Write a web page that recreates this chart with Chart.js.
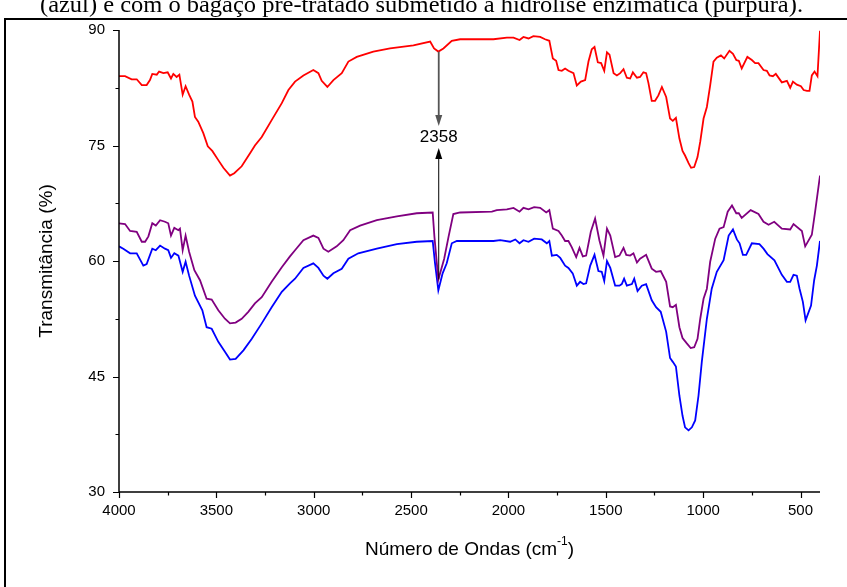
<!DOCTYPE html>
<html>
<head>
<meta charset="utf-8">
<script src="https://cdn.jsdelivr.net/npm/chart.js@4.4.1/dist/chart.umd.min.js"></script>
<style>
  html, body { margin: 0; padding: 0; background: #fff; }
</style>
</head>
<body>
<canvas id="ftirChart" width="847" height="587"></canvas>
<script>
// Espectros FTIR: bagaço in natura (vermelho), pré-tratado (azul), pré-tratado + hidrólise (púrpura)
const redWave = [4000,3969,3935,3909,3883,3858,3841,3829,3806,3794,3772,3750,3733,3721,3704,3690,3673,3658,3640,3623,3610,3593,3567,3544,3521,3490,3464,3430,3408,3370,3327,3302,3267,3216,3164,3130,3096,3053,3002,2976,2959,2930,2899,2856,2822,2779,2694,2608,2488,2402,2382,2360,2334,2291,2248,2077,2008,1974,1943,1923,1897,1872,1837,1812,1790,1772,1755,1743,1726,1709,1692,1666,1649,1628,1606,1589,1572,1558,1541,1524,1508,1494,1481,1460,1443,1426,1409,1392,1375,1361,1340,1324,1307,1293,1281,1264,1247,1230,1212,1190,1170,1156,1140,1122,1106,1093,1075,1062,1046,1029,1015,998,981,964,947,930,909,892,865,847,830,817,802,773,750,733,716,690,673,659,642,627,596,570,553,539,519,498,484,467,454,442,428,413,400];
const redT = [84.0,84.0,83.6,83.6,82.85,82.85,83.5,84.3,84.2,84.6,84.4,84.5,83.7,84.3,83.9,84.2,81.6,82.7,81.6,80.7,78.7,78.1,76.6,74.9,74.3,73.1,72.1,71.1,71.4,72.3,74.0,75.0,76.1,78.3,80.5,82.2,83.3,84.1,84.8,84.4,83.4,82.6,83.5,84.4,85.9,86.5,87.2,87.6,88.0,88.5,87.6,87.2,87.6,88.6,88.8,88.8,89.0,89.0,88.7,89.1,88.9,89.2,89.1,88.8,88.6,86.3,86.0,84.8,84.7,85.0,84.7,84.4,82.8,83.3,83.5,85.9,87.5,87.8,85.8,85.7,84.7,87.1,86.8,84.4,84.1,84.4,84.9,83.8,83.7,84.5,83.8,83.9,84.5,84.4,83.1,80.8,80.8,81.5,82.6,81.3,78.5,78.2,78.6,75.9,74.3,73.7,72.7,72.1,72.2,73.5,75.5,78.5,80.0,82.8,85.9,86.4,86.7,86.3,87.3,86.9,86.1,86.0,85.0,86.5,86.1,85.7,85.7,84.8,84.7,84.1,84.0,84.3,83.2,83.4,82.5,83.3,82.9,82.7,82.2,82.1,82.1,84.1,84.6,84.0,89.9];

const purpleWave = [4000,3969,3943,3909,3883,3866,3849,3829,3811,3789,3764,3747,3733,3716,3695,3687,3673,3658,3640,3613,3584,3550,3524,3490,3456,3430,3401,3370,3336,3302,3267,3216,3164,3122,3096,3053,3002,2976,2950,2925,2882,2848,2813,2762,2676,2573,2471,2389,2380,2360,2330,2308,2283,2248,2085,2060,2008,1974,1943,1923,1897,1868,1837,1806,1790,1772,1743,1726,1709,1692,1675,1652,1635,1618,1601,1577,1555,1533,1512,1494,1477,1452,1430,1409,1395,1375,1358,1340,1324,1293,1264,1242,1218,1190,1170,1156,1140,1122,1106,1084,1064,1046,1029,1015,998,981,964,938,916,895,874,852,830,817,802,756,716,690,664,635,596,553,536,493,476,442,425,400];
const purpleT = [64.9,64.8,63.9,63.8,62.5,62.5,63.2,64.9,64.6,65.3,65.1,64.9,63.3,64.3,64.0,64.2,61.4,63.3,61.2,58.8,57.5,55.1,55.0,53.6,52.5,51.9,52.0,52.5,53.4,54.5,55.3,57.3,59.2,60.6,61.4,62.7,63.3,63.0,61.6,61.2,61.9,62.7,64.0,64.6,65.3,65.8,66.2,66.3,63.1,57.6,60.3,63.1,66.1,66.3,66.4,66.6,66.7,66.9,66.4,66.9,66.7,67.0,66.9,66.3,66.6,64.2,63.9,63.3,62.6,62.6,61.8,60.5,61.7,60.6,60.7,63.8,65.5,62.7,60.7,64.2,63.3,60.5,60.7,61.7,60.8,60.7,61.0,59.8,60.3,60.8,59.0,58.6,58.7,57.3,54.1,54.0,54.3,51.4,50.0,49.3,48.7,48.8,49.9,52.5,55.1,56.4,59.9,62.9,64.2,64.4,66.4,67.2,66.2,66.2,65.6,66.6,66.1,65.1,64.7,65.1,64.2,64.1,64.8,63.9,61.9,63.4,66.4,71.1];

const blueWave = [4000,3978,3943,3909,3875,3858,3829,3811,3789,3764,3747,3733,3716,3695,3673,3658,3640,3610,3572,3550,3524,3490,3456,3430,3401,3361,3318,3267,3216,3164,3122,3096,3053,3002,2976,2950,2930,2899,2856,2822,2771,2676,2573,2471,2389,2377,2360,2338,2317,2291,2265,2077,2042,1991,1965,1943,1923,1897,1868,1829,1803,1790,1777,1752,1734,1709,1692,1670,1649,1632,1615,1601,1580,1558,1538,1521,1508,1494,1477,1452,1430,1418,1406,1392,1366,1354,1337,1315,1293,1264,1242,1218,1190,1170,1156,1140,1122,1106,1093,1075,1058,1041,1024,1007,981,956,930,895,869,847,827,813,796,779,750,711,690,670,634,596,570,553,536,519,505,488,474,446,430,416,400];
const blueT = [61.9,61.6,61.0,61.0,59.4,59.6,61.6,61.4,62.0,61.6,61.4,60.4,61.0,60.7,58.6,59.9,58.1,55.5,53.6,51.4,51.2,49.5,48.2,47.2,47.3,48.4,49.9,51.9,54.0,56.0,57.1,57.7,59.1,59.7,59.1,58.1,57.7,58.4,59.0,60.3,61.0,61.6,62.2,62.5,62.6,59.7,56.2,58.4,59.7,62.3,62.6,62.6,62.7,62.5,62.8,62.3,62.7,62.5,62.9,62.8,62.3,62.6,60.7,60.8,60.4,59.4,59.1,58.4,56.8,57.3,57.0,57.1,59.4,60.8,58.7,58.6,57.4,60.0,59.1,56.8,56.8,57.0,57.7,56.8,57.0,57.7,56.1,56.8,57.0,54.9,54.0,53.4,50.8,47.4,46.9,46.3,42.5,39.9,38.4,38.0,38.4,39.3,42.5,46.9,52.5,56.4,58.6,60.1,63.3,64.1,62.8,62.3,60.8,60.8,62.3,62.2,61.6,60.9,60.1,58.2,57.3,57.3,58.2,58.1,56.4,54.7,52.3,54.2,57.5,59.4,62.6];

// eixos
const xMajorTicks = [4000,3500,3000,2500,2000,1500,1000,500];
const xMinorTicks = [3750,3250,2750,2250,1750,1250,750];
const yMajorTicks = [30,45,60,75,90];
const yMinorTicks = [37.5,52.5,67.5,82.5];

// banda marcada em 2358 cm-1
const bandWave = 2358;
const bandTopT = 87.2;
const bandBottomT = 57.6;
const bandLabelT = 76.1;

const caption = '(azul) e com o bagaço pré-tratado submetido à hidrólise enzimática (púrpura).';

function toPoints(xs, ys) {
  return xs.map((x, i) => ({ x: x, y: ys[i] }));
}

const FONT = '"Liberation Sans", Arial, sans-serif';

// moldura da figura e legenda cortada no topo
const framePlugin = {
  id: 'framePlugin',
  beforeDraw(chart) {
    const ctx = chart.ctx;
    ctx.save();
    ctx.fillStyle = '#fff';
    ctx.fillRect(0, 0, chart.width, chart.height);
    ctx.fillStyle = '#000';
    ctx.font = '24px "Liberation Serif", "Times New Roman", serif';
    ctx.textAlign = 'left';
    ctx.textBaseline = 'alphabetic';
    // ajusta a largura da legenda entre x=40 e x=803
    const w = ctx.measureText(caption).width;
    ctx.save();
    ctx.translate(40, 12);
    ctx.scale(763 / w, 1);
    ctx.fillText(caption, 0, 0);
    ctx.restore();
    ctx.strokeStyle = '#000';
    ctx.lineWidth = 2;
    ctx.beginPath();
    ctx.moveTo(5, chart.height + 5);
    ctx.lineTo(5, 19);
    ctx.lineTo(chart.width + 5, 19);
    ctx.stroke();
    ctx.restore();
  }
};

function arrow(ctx, x, yFrom, yTo, color, width) {
  const dir = yTo > yFrom ? 1 : -1;
  ctx.strokeStyle = color;
  ctx.fillStyle = color;
  ctx.lineWidth = width;
  ctx.beginPath();
  ctx.moveTo(x, yFrom);
  ctx.lineTo(x, yTo - dir * 10);
  ctx.stroke();
  ctx.beginPath();
  ctx.moveTo(x, yTo);
  ctx.lineTo(x - 3.5, yTo - dir * 11);
  ctx.lineTo(x + 3.5, yTo - dir * 11);
  ctx.closePath();
  ctx.fill();
}

// eixos no estilo Origin: só esquerda e baixo, com ticks menores
const axesPlugin = {
  id: 'axesPlugin',
  afterDatasetsDraw(chart) {
    const ctx = chart.ctx;
    const xs = chart.scales.x, ys = chart.scales.y;
    const a = chart.chartArea;
    ctx.save();
    ctx.strokeStyle = '#000';
    ctx.lineWidth = 1.5;
    ctx.beginPath();
    ctx.moveTo(a.left, a.top);
    ctx.lineTo(a.left, a.bottom);
    ctx.lineTo(a.right, a.bottom);
    ctx.stroke();

    ctx.lineWidth = 1.2;
    ctx.beginPath();
    xMajorTicks.forEach(v => { const p = Math.round(xs.getPixelForValue(v)) + 0.5; ctx.moveTo(p, a.bottom); ctx.lineTo(p, a.bottom + 6); });
    xMinorTicks.forEach(v => { const p = Math.round(xs.getPixelForValue(v)) + 0.5; ctx.moveTo(p, a.bottom); ctx.lineTo(p, a.bottom + 3.5); });
    yMajorTicks.forEach(v => { const p = Math.round(ys.getPixelForValue(v)) + 0.5; ctx.moveTo(a.left, p); ctx.lineTo(a.left - 6, p); });
    yMinorTicks.forEach(v => { const p = Math.round(ys.getPixelForValue(v)) + 0.5; ctx.moveTo(a.left, p); ctx.lineTo(a.left - 3.5, p); });
    ctx.stroke();

    // títulos dos eixos
    ctx.fillStyle = '#000';
    ctx.font = '19px ' + FONT;
    ctx.textBaseline = 'middle';
    ctx.save();
    ctx.translate(47, (a.top + a.bottom) / 2);
    ctx.rotate(-Math.PI / 2);
    ctx.textAlign = 'center';
    ctx.fillText('Transmitância (%)', 0, 0);
    ctx.restore();

    const main = 'Número de Ondas (cm';
    ctx.font = '19px ' + FONT;
    const wMain = ctx.measureText(main).width;
    ctx.font = '12px ' + FONT;
    const wSup = ctx.measureText('-1').width;
    ctx.font = '19px ' + FONT;
    const wEnd = ctx.measureText(')').width;
    let x0 = (a.left + a.right) / 2 - (wMain + wSup + wEnd) / 2;
    const yT = 550;
    ctx.textAlign = 'left';
    ctx.fillText(main, x0, yT);
    ctx.font = '12px ' + FONT;
    ctx.fillText('-1', x0 + wMain, yT - 8);
    ctx.font = '19px ' + FONT;
    ctx.fillText(')', x0 + wMain + wSup, yT);

    // anotação da banda
    const bx = xs.getPixelForValue(bandWave);
    const yLabel = ys.getPixelForValue(bandLabelT);
    arrow(ctx, bx, ys.getPixelForValue(bandTopT), yLabel - 11, '#555', 1.8);
    arrow(ctx, bx, ys.getPixelForValue(bandBottomT), yLabel + 11, '#000', 1);
    ctx.font = '17px ' + FONT;
    ctx.textAlign = 'center';
    ctx.fillStyle = '#000';
    ctx.fillText(String(bandWave), bx, yLabel);
    ctx.restore();
  }
};

const ctx = document.getElementById('ftirChart').getContext('2d');
const lineStyle = { borderWidth: 1.8, pointRadius: 0, fill: false, tension: 0 };

const ftirChart = new Chart(ctx, {
  type: 'line',
  data: {
    datasets: [
      Object.assign({ label: 'in natura', data: toPoints(redWave, redT), borderColor: '#ff0000' }, lineStyle),
      Object.assign({ label: 'hidrólise', data: toPoints(purpleWave, purpleT), borderColor: '#800080' }, lineStyle),
      Object.assign({ label: 'pré-tratado', data: toPoints(blueWave, blueT), borderColor: '#0000ff' }, lineStyle)
    ]
  },
  options: {
    responsive: false,
    animation: false,
    devicePixelRatio: 1,
    layout: { padding: { top: 30, right: 27, bottom: 0, left: 0 } },
    plugins: {
      legend: { display: false },
      tooltip: { enabled: false },
      title: { display: false }
    },
    scales: {
      x: {
        type: 'linear',
        reverse: true,
        min: 400,
        max: 4000,
        afterBuildTicks: s => { s.ticks = xMajorTicks.map(v => ({ value: v })); },
        afterFit: s => { s.height = 95; },
        grid: { display: false, drawTicks: false },
        border: { display: false },
        ticks: { color: '#000', font: { family: FONT, size: 15 }, padding: 10, maxRotation: 0, autoSkip: false, callback: v => String(v) }
      },
      y: {
        type: 'linear',
        min: 30,
        max: 90,
        afterBuildTicks: s => { s.ticks = yMajorTicks.map(v => ({ value: v })); },
        afterFit: s => { s.width = 119; },
        grid: { display: false, drawTicks: false },
        border: { display: false },
        ticks: { color: '#000', font: { family: FONT, size: 15 }, padding: 14, callback: v => String(v) }
      }
    }
  },
  plugins: [framePlugin, axesPlugin]
});
</script>
</body>
</html>
